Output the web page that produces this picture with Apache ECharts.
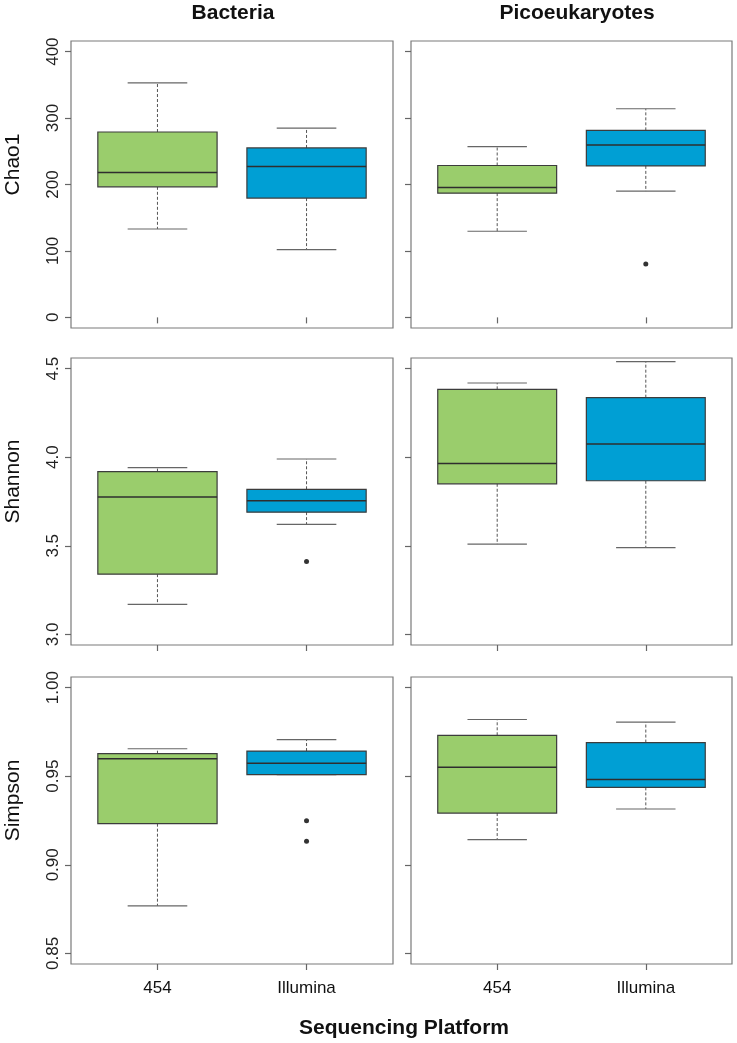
<!DOCTYPE html>
<html>
<head>
<meta charset="utf-8">
<title>Alpha diversity by sequencing platform</title>
<script src="https://cdn.jsdelivr.net/npm/echarts@6/dist/echarts.min.js"></script>
<style>
  html, body { margin: 0; padding: 0; background: #fff; }
  #chart { width: 737px; height: 1043px; }
</style>
</head>
<body>
<div id="chart"></div>
<script>
// categories
const platforms = ['454', 'Illumina'];
const groups = ['Bacteria', 'Picoeukaryotes'];
const metrics = ['Chao1', 'Shannon', 'Simpson'];

// box stats per platform: [lower whisker, Q1, median, Q3, upper whisker]
const chao1Bacteria = [[133, 196.5, 218, 279, 353], [102, 179.5, 227, 255, 285]];
const chao1Pico = [[129.6, 187, 195.6, 228.6, 257], [190, 228, 259.5, 281.5, 314]];
const shannonBacteria = [[3.169, 3.340, 3.776, 3.919, 3.941], [3.621, 3.690, 3.754, 3.819, 3.990]];
const shannonPico = [[3.509, 3.850, 3.964, 4.383, 4.419], [3.490, 3.867, 4.075, 4.336, 4.539]];
const simpsonBacteria = [[0.8768, 0.9232, 0.9599, 0.9627, 0.9655], [0.9509, 0.9509, 0.9573, 0.9642, 0.9706]];
const simpsonPico = [[0.9142, 0.9292, 0.9550, 0.9731, 0.9820], [0.9315, 0.9437, 0.9482, 0.9690, 0.9805]];

// outliers: [platform index (1-based), value]
const chao1BacteriaOut = [];
const chao1PicoOut = [[2, 80.5]];
const shannonBacteriaOut = [[2, 3.411]];
const shannonPicoOut = [];
const simpsonBacteriaOut = [[2, 0.9249], [2, 0.9133]];
const simpsonPicoOut = [];

// tick values
const chao1Ticks = [0, 100, 200, 300, 400];
const shannonTicks = [3.0, 3.5, 4.0, 4.5];
const simpsonTicks = [0.85, 0.90, 0.95, 1.00];

const boxColors = ['#9acd6c', '#009fd4'];

const rows = [
  { stats: [chao1Bacteria, chao1Pico], outs: [chao1BacteriaOut, chao1PicoOut], ticks: chao1Ticks, digits: 0, top: 41 },
  { stats: [shannonBacteria, shannonPico], outs: [shannonBacteriaOut, shannonPicoOut], ticks: shannonTicks, digits: 1, top: 358 },
  { stats: [simpsonBacteria, simpsonPico], outs: [simpsonBacteriaOut, simpsonPicoOut], ticks: simpsonTicks, digits: 2, top: 677 }
];
const colLeft = [71, 411];
const colWidth = [322, 321];
const titleX = [233, 577];
const panelHeight = 287;

const grid = [], xAxis = [], yAxis = [], series = [];

function renderBox(params, api) {
  const x = api.value(0);
  const half = 0.4, cap = 0.2;
  const pLow = api.coord([x, api.value(1)]);
  const pQ1 = api.coord([x, api.value(2)]);
  const pMed = api.coord([x, api.value(3)]);
  const pQ3 = api.coord([x, api.value(4)]);
  const pHigh = api.coord([x, api.value(5)]);
  const left = api.coord([x - half, 0])[0];
  const right = api.coord([x + half, 0])[0];
  const capL = api.coord([x - cap, 0])[0];
  const capR = api.coord([x + cap, 0])[0];
  const cx = pMed[0];
  const whisk = { stroke: '#555', lineWidth: 1, lineDash: [3, 2] };
  const capStyle = { stroke: '#666', lineWidth: 1.2 };
  return {
    type: 'group',
    children: [
      { type: 'line', shape: { x1: cx, y1: pQ3[1], x2: cx, y2: pHigh[1] }, style: whisk },
      { type: 'line', shape: { x1: cx, y1: pQ1[1], x2: cx, y2: pLow[1] }, style: whisk },
      { type: 'line', shape: { x1: capL, y1: pHigh[1], x2: capR, y2: pHigh[1] }, style: capStyle },
      { type: 'line', shape: { x1: capL, y1: pLow[1], x2: capR, y2: pLow[1] }, style: capStyle },
      { type: 'rect', shape: { x: left, y: pQ3[1], width: right - left, height: pQ1[1] - pQ3[1] },
        style: { fill: boxColors[x - 1], stroke: '#3c3c3c', lineWidth: 1.2 } },
      { type: 'line', shape: { x1: left, y1: pMed[1], x2: right, y2: pMed[1] }, style: { stroke: '#2e2e2e', lineWidth: 1.5 } }
    ]
  };
}

rows.forEach(function (row, r) {
  const span = row.ticks[row.ticks.length - 1] - row.ticks[0];
  const pad = span * 0.04;
  for (let c = 0; c < 2; c++) {
    const i = grid.length;
    grid.push({
      left: colLeft[c], top: row.top, width: colWidth[c], height: panelHeight,
      show: true, borderColor: '#7a7a7a', borderWidth: 1.2, backgroundColor: '#fff'
    });
    xAxis.push({
      gridIndex: i, type: 'value', min: 0.42, max: 2.58,
      splitLine: { show: false },
      axisLine: { show: false },
      axisTick: { show: true, customValues: [1, 2], length: 6, lineStyle: { color: '#666', width: 1.2 } },
      axisLabel: {
        show: r === rows.length - 1, customValues: [1, 2], margin: 16,
        fontFamily: 'Liberation Sans, Arial, sans-serif', fontSize: 17, color: '#111',
        formatter: function (v) { return platforms[Math.round(v) - 1]; }
      }
    });
    yAxis.push({
      gridIndex: i, type: 'value',
      min: row.ticks[0] - pad, max: row.ticks[row.ticks.length - 1] + pad,
      splitLine: { show: false },
      axisLine: { show: false },
      axisTick: { show: true, customValues: row.ticks, length: 6, lineStyle: { color: '#666', width: 1.2 } },
      axisLabel: {
        show: c === 0, customValues: row.ticks, rotate: 90, margin: 9,
        fontFamily: 'Liberation Sans, Arial, sans-serif', fontSize: 17, color: '#222',
        formatter: function (v) { return v.toFixed(row.digits); }
      }
    });
    series.push({
      type: 'custom', xAxisIndex: i, yAxisIndex: i,
      renderItem: renderBox,
      encode: { x: 0, y: [1, 2, 3, 4, 5] },
      data: row.stats[c].map(function (s, k) { return [k + 1].concat(s); }),
      silent: true
    });
    series.push({
      type: 'scatter', xAxisIndex: i, yAxisIndex: i,
      data: row.outs[c], symbolSize: 5,
      itemStyle: { color: '#000' }, silent: true
    });
  }
});

const font = 'Liberation Sans, Arial, sans-serif';
const graphic = [];
groups.forEach(function (g, c) {
  graphic.push({
    type: 'text', x: titleX[c], y: 13,
    style: { text: g, font: 'bold 21px ' + font, fill: '#111', textAlign: 'center', textVerticalAlign: 'middle' }
  });
});
metrics.forEach(function (m, r) {
  graphic.push({
    type: 'text', x: 13, y: rows[r].top + panelHeight / 2 - 20, rotation: Math.PI / 2,
    style: { text: m, font: '21px ' + font, fill: '#111', textAlign: 'center', textVerticalAlign: 'middle' }
  });
});
graphic.push({
  type: 'text', x: 404, y: 1028,
  style: { text: 'Sequencing Platform', font: 'bold 21px ' + font, fill: '#111', textAlign: 'center', textVerticalAlign: 'middle' }
});

const chart = echarts.init(document.getElementById('chart'), null, { renderer: 'canvas' });
chart.setOption({
  animation: false,
  backgroundColor: '#fff',
  grid: grid,
  xAxis: xAxis,
  yAxis: yAxis,
  series: series,
  graphic: graphic
});
</script>
</body>
</html>
